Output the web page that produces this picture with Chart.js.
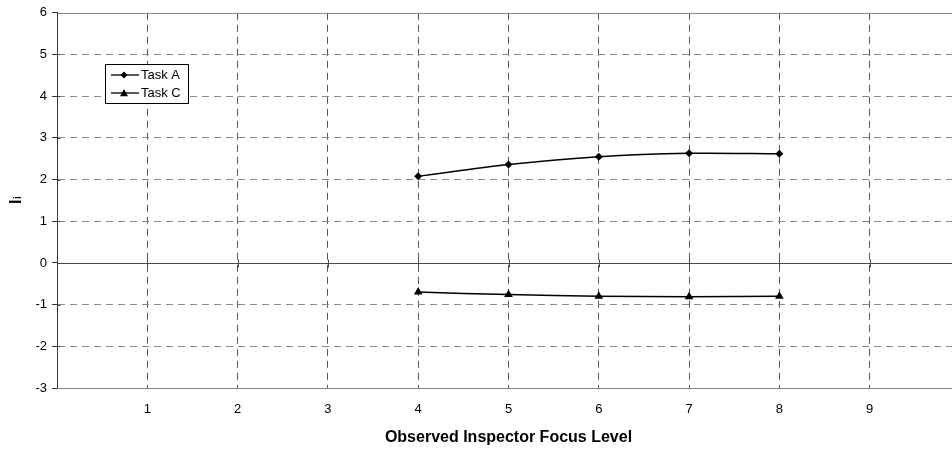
<!DOCTYPE html>
<html>
<head>
<meta charset="utf-8">
<script src="https://cdn.jsdelivr.net/npm/chart.js@4/dist/chart.umd.min.js"></script>
<style>
  html, body { margin: 0; padding: 0; background: #fff; overflow: hidden; }
  #wrap { width: 952px; height: 450px; overflow: hidden; position: relative; }
  canvas { display: block; }
</style>
</head>
<body>
<div id="wrap"><canvas id="c" width="965" height="450"></canvas></div>
<script>
// ---- data ----
const focusLevels = [4, 5, 6, 7, 8];
const taskA = [2.08, 2.36, 2.55, 2.63, 2.62];
const taskC = [-0.70, -0.76, -0.80, -0.81, -0.80];
const seriesLabels = ['Task A', 'Task C'];
const xTickLabels = [1, 2, 3, 4, 5, 6, 7, 8, 9];
const yTickLabels = [-3, -2, -1, 0, 1, 2, 3, 4, 5, 6];
const xTitle = 'Observed Inspector Focus Level';
const yTitleMain = 'I';
const yTitleSub = 'i';

const FONT = '"Liberation Sans", Arial, sans-serif';

const pts = (vals) => focusLevels.map((x, i) => ({ x: x, y: vals[i] }));

const decorPlugin = {
  id: 'decor',
  beforeDatasetsDraw(chart) {
    const ctx = chart.ctx;
    const xs = chart.scales.x, ys = chart.scales.y;
    const a = chart.chartArea;
    const y0 = Math.round(ys.getPixelForValue(0)) + 0.5;
    ctx.save();
    ctx.setLineDash([]);
    ctx.strokeStyle = '#4a4a4a';
    ctx.lineWidth = 1;
    ctx.beginPath();
    ctx.moveTo(a.left, y0);
    ctx.lineTo(a.right, y0);
    xTickLabels.forEach(v => {
      const px = Math.round(xs.getPixelForValue(v)) + 0.5;
      ctx.moveTo(px, y0 - 4);
      ctx.lineTo(px, y0 + 4);
    });
    // small right-side extension of y tick marks
    const lx = Math.round(a.left) + 0.5;
    yTickLabels.forEach(v => {
      const py = Math.round(ys.getPixelForValue(v)) + 0.5;
      ctx.moveTo(lx, py);
      ctx.lineTo(lx + 3, py);
    });
    ctx.stroke();
    ctx.restore();
  },
  afterDraw(chart) {
    const ctx = chart.ctx;
    const a = chart.chartArea;
    ctx.save();
    // axis titles
    ctx.fillStyle = '#000';
    ctx.font = 'bold 16px ' + FONT;
    ctx.textAlign = 'center';
    ctx.textBaseline = 'middle';
    ctx.fillText(xTitle, (a.left + a.right) / 2, 437.5);
    ctx.translate(21, 204);
    ctx.rotate(-Math.PI / 2);
    ctx.textAlign = 'left';
    ctx.textBaseline = 'alphabetic';
    const wI = ctx.measureText(yTitleMain).width;
    ctx.fillText(yTitleMain, 0, 0);
    ctx.font = 'bold 10px ' + FONT;
    ctx.fillText(yTitleSub, wI + 0.5, 0);
    ctx.restore();

    // legend
    ctx.save();
    const bx = 105.5, by = 64.5, bw = 83, bh = 39;
    ctx.fillStyle = '#fff';
    ctx.fillRect(bx, by, bw, bh);
    ctx.strokeStyle = '#000';
    ctx.lineWidth = 1;
    ctx.strokeRect(bx, by, bw, bh);
    const rows = [75, 93];
    chart.data.datasets.forEach((ds, i) => {
      const ry = rows[i];
      ctx.strokeStyle = '#000';
      ctx.lineWidth = 1.3;
      ctx.beginPath();
      ctx.moveTo(111, ry);
      ctx.lineTo(139, ry);
      ctx.stroke();
      ctx.fillStyle = '#000';
      ctx.beginPath();
      if (ds.pointStyle === 'rectRot') {
        const r = 3.5;
        ctx.moveTo(124, ry - r); ctx.lineTo(124 + r, ry); ctx.lineTo(124, ry + r); ctx.lineTo(124 - r, ry);
      } else {
        const r = 4;
        ctx.moveTo(124, ry - r); ctx.lineTo(124 + r, ry + r * 0.8); ctx.lineTo(124 - r, ry + r * 0.8);
      }
      ctx.closePath();
      ctx.fill();
      ctx.font = '13px ' + FONT;
      ctx.textAlign = 'left';
      ctx.textBaseline = 'middle';
      ctx.fillText(ds.label, 141, ry);
    });
    ctx.restore();
  }
};

new Chart(document.getElementById('c'), {
  type: 'line',
  data: {
    datasets: [
      {
        label: seriesLabels[0],
        data: pts(taskA),
        borderColor: '#000',
        backgroundColor: '#000',
        borderWidth: 1.5,
        pointStyle: 'rectRot',
        pointRadius: 4,
        pointBorderWidth: 0,
        tension: 0.3,
        fill: false
      },
      {
        label: seriesLabels[1],
        data: pts(taskC),
        borderColor: '#000',
        backgroundColor: '#000',
        borderWidth: 1.5,
        pointStyle: 'triangle',
        pointRadius: 5,
        pointBorderWidth: 0,
        tension: 0.3,
        fill: false
      }
    ]
  },
  options: {
    responsive: false,
    animation: false,
    devicePixelRatio: 1,
    layout: { padding: { left: 0, top: 11, right: 4, bottom: 0 } },
    plugins: { legend: { display: false }, tooltip: { enabled: false } },
    scales: {
      x: {
        type: 'linear',
        min: 0,
        max: 10,
        afterBuildTicks(scale) {
          scale.ticks = xTickLabels.map(v => ({ value: v }));
        },
        afterFit(scale) { scale.height = 62; },
        ticks: {
          font: { family: FONT, size: 13 },
          color: '#000',
          padding: 14,
          maxRotation: 0,
          autoSkip: false,
          callback: (v) => String(v)
        },
        grid: {
          color: '#555',
          lineWidth: 1,
          drawTicks: false
        },
        border: { display: true, color: '#888', width: 1, dash: [7, 5] }
      },
      y: {
        type: 'linear',
        min: -3,
        max: 6,
        afterBuildTicks(scale) {
          scale.ticks = yTickLabels.map(v => ({ value: v }));
        },
        afterFit(scale) { scale.width = 57; },
        ticks: {
          font: { family: FONT, size: 13 },
          color: '#000',
          padding: 5,
          callback: (v) => String(v)
        },
        grid: {
          color: (c) => (c.tick && (c.tick.value === 6 || c.tick.value === -3 || c.tick.value === 0)) ? 'rgba(0,0,0,0)' : '#888',
          tickColor: '#333',
          lineWidth: 1,
          drawTicks: true,
          tickLength: 5
        },
        border: { display: true, color: '#333', width: 1, dash: [7, 5] }
      }
    }
  },
  plugins: [decorPlugin, {
    id: 'frame',
    beforeDatasetsDraw(chart) {
      const ctx = chart.ctx, a = chart.chartArea;
      ctx.save();
      ctx.setLineDash([]);
      ctx.strokeStyle = '#888';
      ctx.lineWidth = 1;
      ctx.beginPath();
      ctx.moveTo(a.left, Math.round(a.top) + 0.5);
      ctx.lineTo(a.right, Math.round(a.top) + 0.5);
      ctx.moveTo(a.left, Math.round(a.bottom) + 0.5);
      ctx.lineTo(a.right, Math.round(a.bottom) + 0.5);
      ctx.stroke();
      ctx.strokeStyle = '#333';
      ctx.beginPath();
      ctx.moveTo(Math.round(a.left) + 0.5, a.top);
      ctx.lineTo(Math.round(a.left) + 0.5, a.bottom);
      ctx.stroke();
      ctx.restore();
    }
  }]
});
</script>
</body>
</html>
